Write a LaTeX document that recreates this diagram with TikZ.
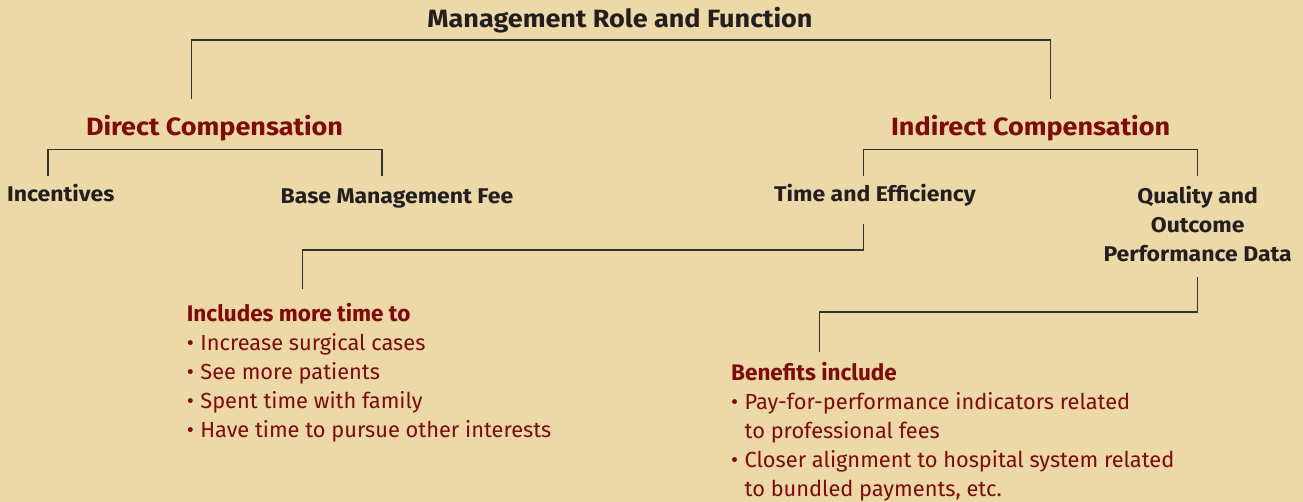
\documentclass[tikz,border=0pt]{standalone}
\usepackage{fontspec}
\setmainfont{Fira Sans}
\newfontfamily\headfont[FakeStretch=1.08]{Fira Sans}
\definecolor{bg}{HTML}{EDD8A8}
\definecolor{dred}{HTML}{7F0A0A}
\definecolor{ink}{HTML}{231F20}
\definecolor{rulec}{HTML}{333330}
\newcommand{\blt}{\makebox[0.62em][l]{\textbullet}}
\begin{document}
\begin{tikzpicture}[x=1pt,y=-1pt,
  conn/.style={draw=rulec,line width=1.4pt},
  titletext/.style={inner sep=0,font=\headfont\bfseries\fontsize{25}{29}\selectfont,text=ink,anchor=base},
  headtext/.style={inner sep=0,font=\headfont\bfseries\fontsize{25}{29}\selectfont,text=dred,anchor=base},
  subtext/.style={inner sep=0,font=\headfont\bfseries\fontsize{21.3}{29}\selectfont,text=ink,anchor=base},
  listtext/.style={inner sep=0,font=\fontsize{21.8}{29}\selectfont,text=dred,anchor=base west,align=left},
  listhead/.style={font=\bfseries\fontsize{22.5}{29}\selectfont},
]
\fill[bg] (0,0) rectangle (1303,502);
\useasboundingbox (0,0) rectangle (1303,502);

\node[titletext] (title) at (620,28) {Management Role and Function};
\node[headtext] (direct) at (214.5,136) {Direct Compensation};
\node[headtext] (indirect) at (1030.6,136) {Indirect Compensation};
\node[subtext] (incent) at (60.7,202) {Incentives};
\node[subtext] (basefee) at (397,204) {Base Management Fee};
\node[subtext] (time) at (875,201.7) {Time and Efficiency};
\node[subtext,align=center] (quality) at (1197.7,262) {Quality and\\Outcome\\Performance Data};

\node[listtext] (timelist) at (186.7,437.5) {{\bfseries\fontsize{22.5}{29}\selectfont Includes more time to}\\
  \blt Increase surgical cases\\
  \blt See more patients\\
  \blt Spent time with family\\
  \blt Have time to pursue other interests};
\node[listtext] (qualitylist) at (731,496.5) {{\bfseries\fontsize{22.5}{29}\selectfont Benefits include}\\
  \blt Pay-for-performance indicators related\\
  \phantom{\blt}to professional fees\\
  \blt Closer alignment to hospital system related\\
  \phantom{\blt}to bundled payments, etc.};

% bracket end points
\coordinate (dtop) at (191.5,98.7);
\coordinate (itop) at (1050.7,98.7);
\coordinate (incTop) at (48,175.7);
\coordinate (feeTop) at (382,175.7);
\coordinate (timeTop) at (863.2,175.7);
\coordinate (qualTop) at (1197.7,175.7);
\coordinate (timeBot) at (863.2,224);
\coordinate (tlistTop) at (302.7,289);
\coordinate (qualBot) at (1197.7,277);
\coordinate (qlistTop) at (819.3,351.7);

\draw[conn] (dtop) -- ++(0,-58.7) -| (itop);
\draw[conn] (incTop) -- ++(0,-26) -| (feeTop);
\draw[conn] (timeTop) -- ++(0,-26) -| (qualTop);
\draw[conn] (timeBot) -- ++(0,26) -| (tlistTop);
\draw[conn] (qualBot) -- ++(0,35) -| (qlistTop);
\end{tikzpicture}
\end{document}
